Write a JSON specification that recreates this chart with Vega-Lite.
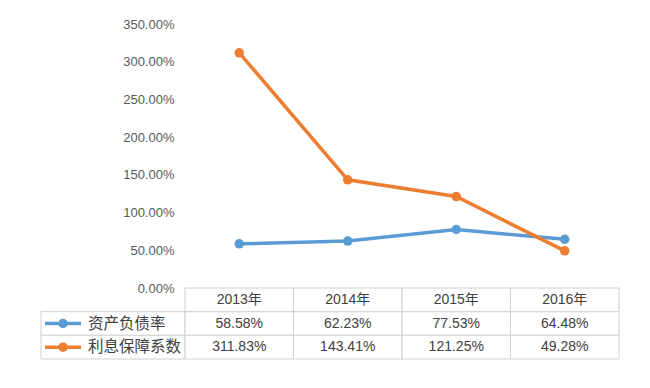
{
  "$schema": "https://vega.github.io/schema/vega-lite/v6.json",
  "background": "white",
  "padding": {"left": 40, "top": 18, "right": 20, "bottom": 20},
  "datasets": {
    "d": [
      {"year": "2013年", "series": "资产负债率", "value": 0.5858},
      {"year": "2014年", "series": "资产负债率", "value": 0.6223},
      {"year": "2015年", "series": "资产负债率", "value": 0.7753},
      {"year": "2016年", "series": "资产负债率", "value": 0.6448},
      {"year": "2013年", "series": "利息保障系数", "value": 3.1183},
      {"year": "2014年", "series": "利息保障系数", "value": 1.4341},
      {"year": "2015年", "series": "利息保障系数", "value": 1.2125},
      {"year": "2016年", "series": "利息保障系数", "value": 0.4928}
    ]
  },
  "columns": 2,
  "spacing": 0,
  "bounds": "flush",
  "align": "each",
  "concat": [
    {
      "width": 144,
      "height": 264,
      "data": {"values": [{"a": 1}]},
      "mark": {"type": "text", "text": ""},
      "encoding": {}
    },
    {
      "width": 434,
      "height": 264,
      "data": {"name": "d"},
      "encoding": {
        "x": {"field": "year", "type": "ordinal", "sort": null, "axis": null, "scale": {"type": "point", "padding": 0.5}},
        "y": {
          "field": "value", "type": "quantitative",
          "scale": {"domain": [0, 3.5], "nice": false},
          "axis": {"values": [0, 0.5, 1, 1.5, 2, 2.5, 3, 3.5], "format": ".2%", "domain": false, "ticks": false, "grid": false, "labelFontSize": 13, "labelColor": "#595959", "labelPadding": 11, "title": null, "labelFont": "Liberation Sans"}
        },
        "color": {"field": "series", "type": "nominal", "scale": {"domain": ["资产负债率", "利息保障系数"], "range": ["#5B9BD5", "#ED7D31"]}, "legend": null}
      },
      "layer": [
        {"mark": {"type": "line", "strokeWidth": 3.5}},
        {"mark": {"type": "point", "filled": true, "size": 90, "opacity": 1}}
      ]
    },
    {
      "width": 144,
      "height": 71,
      "data": {"values": [{"series": "资产负债率"}, {"series": "利息保障系数"}]},
      "encoding": {
        "y": {"field": "series", "type": "nominal", "scale": {"type": "band", "domain": ["header", "资产负债率", "利息保障系数"], "paddingInner": 0, "paddingOuter": 0}, "axis": null}
      },
      "layer": [
        {
          "mark": {"type": "rect", "fill": "white", "stroke": "#d0d0d0", "strokeWidth": 1},
          "encoding": {
            "x": {"datum": 0, "type": "quantitative", "scale": {"domain": [0, 144], "nice": false, "zero": false}, "axis": null},
            "x2": {"datum": 144}
          }
        },
        {
          "mark": {"type": "rule", "strokeWidth": 3.5},
          "encoding": {
            "x": {"datum": 4, "type": "quantitative"},
            "x2": {"datum": 40},
            "color": {"field": "series", "type": "nominal", "scale": {"domain": ["资产负债率", "利息保障系数"], "range": ["#5B9BD5", "#ED7D31"]}, "legend": null}
          }
        },
        {
          "mark": {"type": "point", "filled": true, "size": 90, "opacity": 1},
          "encoding": {
            "x": {"datum": 22, "type": "quantitative"},
            "color": {"field": "series", "type": "nominal", "scale": {"domain": ["资产负债率", "利息保障系数"], "range": ["#5B9BD5", "#ED7D31"]}, "legend": null}
          }
        },
        {
          "mark": {"type": "text", "align": "left", "baseline": "middle", "fontSize": 15.5, "color": "#404040", "font": "Noto Sans CJK SC"},
          "encoding": {
            "x": {"datum": 47, "type": "quantitative"},
            "text": {"field": "series"}
          }
        }
      ]
    },
    {
      "width": 434,
      "height": 71,
      "data": {"name": "d"},
      "encoding": {
        "x": {"field": "year", "type": "ordinal", "sort": null, "axis": null, "scale": {"type": "band", "paddingInner": 0, "paddingOuter": 0}}
      },
      "layer": [
        {
          "mark": {"type": "rect", "fill": "white", "stroke": "#d0d0d0", "strokeWidth": 1},
          "encoding": {
            "y": {"field": "series", "type": "nominal", "scale": {"type": "band", "domain": ["header", "资产负债率", "利息保障系数"], "paddingInner": 0, "paddingOuter": 0}, "axis": null}
          }
        },
        {
          "transform": [{"filter": "datum.series === '资产负债率'"}],
          "mark": {"type": "rect", "fill": "white", "stroke": "#d0d0d0", "strokeWidth": 1},
          "encoding": {"y": {"datum": "header"}}
        },
        {
          "transform": [{"filter": "datum.series === '资产负债率'"}],
          "mark": {"type": "text", "fontSize": 14, "color": "#404040", "baseline": "middle", "font": "Liberation Sans, Noto Sans CJK SC"},
          "encoding": {"y": {"datum": "header"}, "text": {"field": "year"}}
        },
        {
          "mark": {"type": "text", "fontSize": 14, "color": "#404040", "baseline": "middle", "font": "Liberation Sans"},
          "encoding": {
            "y": {"field": "series", "type": "nominal"},
            "text": {"field": "value", "format": ".2%"}
          }
        }
      ]
    }
  ],
  "config": {"view": {"stroke": null}}
}
